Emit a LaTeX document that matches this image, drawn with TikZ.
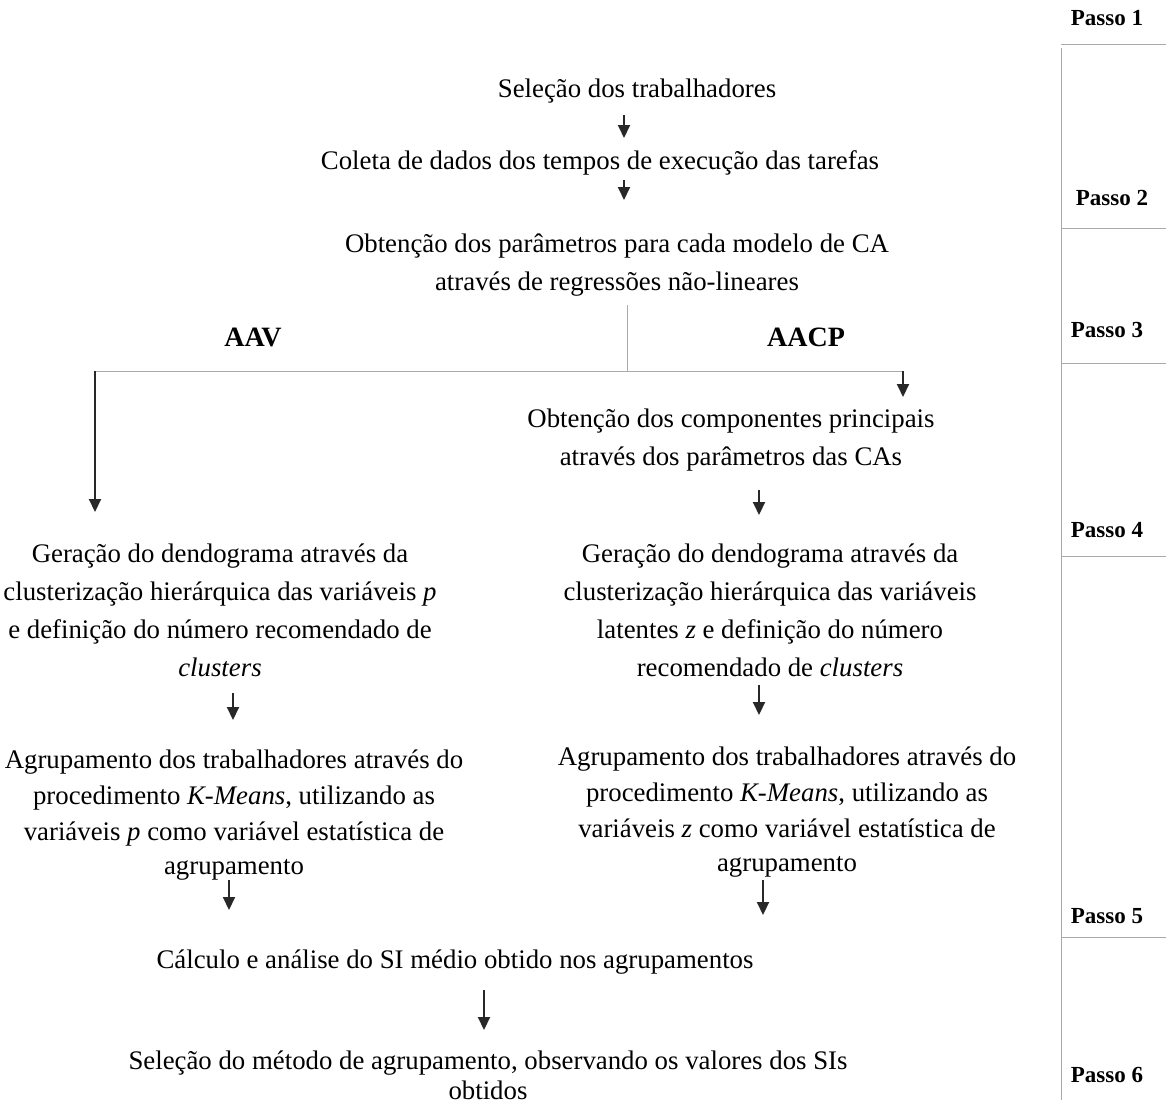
\documentclass[tikz,border=0pt]{standalone}
\usepackage{fontspec}
\setmainfont{Liberation Serif}
\usepackage{tikz}
\usetikzlibrary{arrows.meta}
\definecolor{linegray}{RGB}{170,170,170}
\definecolor{arrowgray}{RGB}{40,40,40}
\newcommand{\drawarrow}{\draw[arrowgray, line width=1pt, -{Triangle[length=6.5pt,width=6pt]}]}

\begin{document}
\begin{tikzpicture}[x=0.5pt, y=-0.5pt,
    txt/.style={font=\fontsize{13.4}{19}\selectfont, align=center, inner sep=0pt},
    branch/.style={font=\fontsize{14}{17}\selectfont\bfseries, inner sep=0pt},
    passo/.style={font=\fontsize{11.5}{14}\selectfont\bfseries, inner sep=0pt}]
    \useasboundingbox (0,0) rectangle (1166,1103);

    % Draw step column
    \draw[linegray] (1061,48) -- (1061,1100);
    \foreach \y in {44,228,363,556,937} {
        \draw[linegray] (1061,\y) -- (1166,\y);
    }
    \node[passo] (p1) at (1107,18) {Passo 1};
    \node[passo] (p2) at (1112,198) {Passo 2};
    \node[passo] (p3) at (1107,330) {Passo 3};
    \node[passo] (p4) at (1107,530) {Passo 4};
    \node[passo] (p5) at (1107,916) {Passo 5};
    \node[passo] (p6) at (1107,1075) {Passo 6};

    % Draw texts
    \node[txt] (sel) at (637,91) {Seleção dos trabalhadores};
    \node[txt] (col) at (600,163) {Coleta de dados dos tempos de execução das tarefas};
    \node[txt] (obt) at (617,265) {Obtenção dos parâmetros para cada modelo de CA\\através de regressões não-lineares};
    \node[txt, font=\fontsize{14}{17}\selectfont\bfseries] (aav) at (253,337) {AAV};
    \node[txt, font=\fontsize{14}{17}\selectfont\bfseries] (aacp) at (806,337) {AACP};
    \node[txt] (comp) at (731,440) {Obtenção dos componentes principais\\através dos parâmetros das CAs};
    \node[txt] (dendL) at (220,610) {Geração do dendograma através da\\clusterização hierárquica das variáveis \textit{p}\\e definição do número recomendado de\\\textit{clusters}};
    \node[txt] (dendR) at (770,610) {Geração do dendograma através da\\clusterização hierárquica das variáveis\\latentes \textit{z} e definição do número\\recomendado de \textit{clusters}};
    \node[txt] (agrL) at (234,815) {Agrupamento dos trabalhadores através do\\[-1pt]procedimento \textit{K-Means}, utilizando as\\[-1pt]variáveis \textit{p} como variável estatística de\\[-2pt]agrupamento};
    \node[txt] (agrR) at (787,812) {Agrupamento dos trabalhadores através do\\[-1pt]procedimento \textit{K-Means}, utilizando as\\[-1pt]variáveis \textit{z} como variável estatística de\\[-2pt]agrupamento};
    \node[txt] (calc) at (455,962) {Cálculo e análise do SI médio obtido nos agrupamentos};
    \node[txt] (selm) at (488,1075) {Seleção do método de agrupamento, observando os valores dos SIs\\[-4pt]obtidos};

    % Draw split
    \coordinate (split) at (627,305);
    \coordinate (splitL) at (95,371);
    \coordinate (splitM) at (627,371);
    \coordinate (splitR) at (903,371);
    \draw[linegray] (split) -- (splitM);
    \draw[linegray] (splitL) -- (splitR);

    % Draw arrows
    \coordinate (a1s) at (624,115);  \coordinate (a1e) at (624,138);
    \coordinate (a2s) at (624,180);  \coordinate (a2e) at (624,200);
    \coordinate (a3e) at (95,512);
    \coordinate (a4e) at (903,397);
    \coordinate (a5s) at (759,490);  \coordinate (a5e) at (759,515);
    \coordinate (a6s) at (233,693);  \coordinate (a6e) at (233,720);
    \coordinate (a7s) at (759,685);  \coordinate (a7e) at (759,715);
    \coordinate (a8s) at (229,880);  \coordinate (a8e) at (229,910);
    \coordinate (a9s) at (763,880);  \coordinate (a9e) at (763,915);
    \coordinate (a10s) at (484,990); \coordinate (a10e) at (484,1030);

    \drawarrow (a1s) -- (a1e);
    \drawarrow (a2s) -- (a2e);
    \drawarrow (splitL) -- (a3e);
    \drawarrow (splitR) -- (a4e);
    \drawarrow (a5s) -- (a5e);
    \drawarrow (a6s) -- (a6e);
    \drawarrow (a7s) -- (a7e);
    \drawarrow (a8s) -- (a8e);
    \drawarrow (a9s) -- (a9e);
    \drawarrow (a10s) -- (a10e);
\end{tikzpicture}
\end{document}
